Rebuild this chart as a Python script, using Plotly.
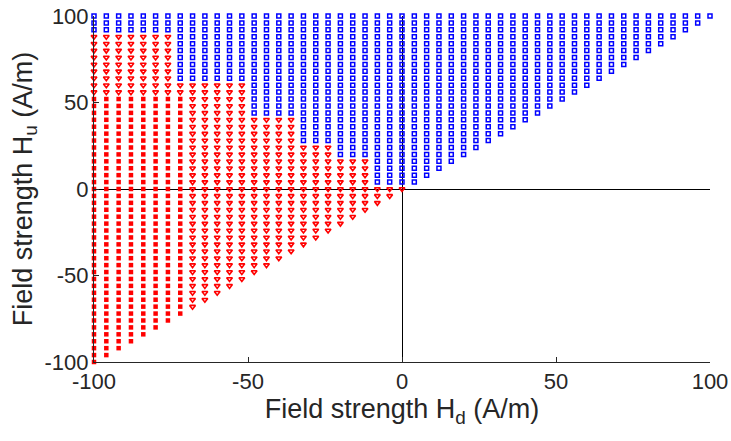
import plotly.graph_objects as go

# Preisach plane sampling grid (A/m)
hd_values = list(range(-100, 101, 4))
hu_values = list(range(-100, 101, 4))

# Axis ticks
tick_values = [-100, -50, 0, 50, 100]
tick_labels = ["-100", "-50", "0", "50", "100"]

# Staircase interface: for down-switching fields Hd up to each edge,
# hysterons are in the "down" state up to the listed Hu level
stair_hd_edges = [-76, -52, -36, -24, -12, 0]
stair_hu_tops = [88, 60, 40, 24, 16, 0]

# Region of the "down" hysterons marked separately
marked_hd_max = -72
marked_hu_max = 52


def down_top(hd):
    for edge, top in zip(stair_hd_edges, stair_hu_tops):
        if hd <= edge:
            return top
    return None


up_x, up_y = [], []
down_x, down_y = [], []
mark_x, mark_y = [], []
for hd in hd_values:
    top = down_top(hd)
    for hu in hu_values:
        if hu < hd:
            continue
        if top is not None and hu <= top:
            if hd <= marked_hd_max and hu <= marked_hu_max:
                mark_x.append(hd)
                mark_y.append(hu)
            else:
                down_x.append(hd)
                down_y.append(hu)
        else:
            up_x.append(hd)
            up_y.append(hu)

fig = go.Figure()
fig.add_trace(go.Scatter(
    x=up_x, y=up_y, mode="markers", cliponaxis=False,
    marker=dict(symbol="square-open", size=4, color="#0000FF",
                line=dict(width=1.5, color="#0000FF")),
    hoverinfo="skip"))
fig.add_trace(go.Scatter(
    x=down_x, y=down_y, mode="markers", cliponaxis=False,
    marker=dict(symbol="triangle-down-open", size=5, color="#FF0000",
                line=dict(width=1.6, color="#FF0000")),
    hoverinfo="skip"))
fig.add_trace(go.Scatter(
    x=mark_x, y=mark_y, mode="markers", cliponaxis=False,
    marker=dict(symbol="square", size=4.5, color="#FF0000",
                line=dict(width=0)),
    hoverinfo="skip"))

axis_common = dict(
    showgrid=False,
    zeroline=True, zerolinecolor="black", zerolinewidth=1,
    showline=True, linecolor="#262626", linewidth=1,
    ticks="inside", ticklen=5, tickcolor="#262626", tickwidth=1,
    tickfont=dict(family="Arial", size=22, color="#262626"),
    tickvals=tick_values, ticktext=tick_labels,
    range=[-100, 100],
    automargin=False,
    mirror=False,
)

fig.update_layout(
    width=731, height=441,
    margin=dict(l=94, r=21, t=16, b=79),
    paper_bgcolor="white", plot_bgcolor="white",
    showlegend=False,
    xaxis=dict(title=dict(text="Field strength H<sub>d</sub> (A/m)",
                          font=dict(family="Arial", size=27, color="#262626"),
                          standoff=0),
               **axis_common),
    yaxis=dict(title=dict(text="Field strength H<sub>u</sub> (A/m)",
                          font=dict(family="Arial", size=27, color="#262626"),
                          standoff=4),
               **axis_common),
)

fig.write_html("out.html")
